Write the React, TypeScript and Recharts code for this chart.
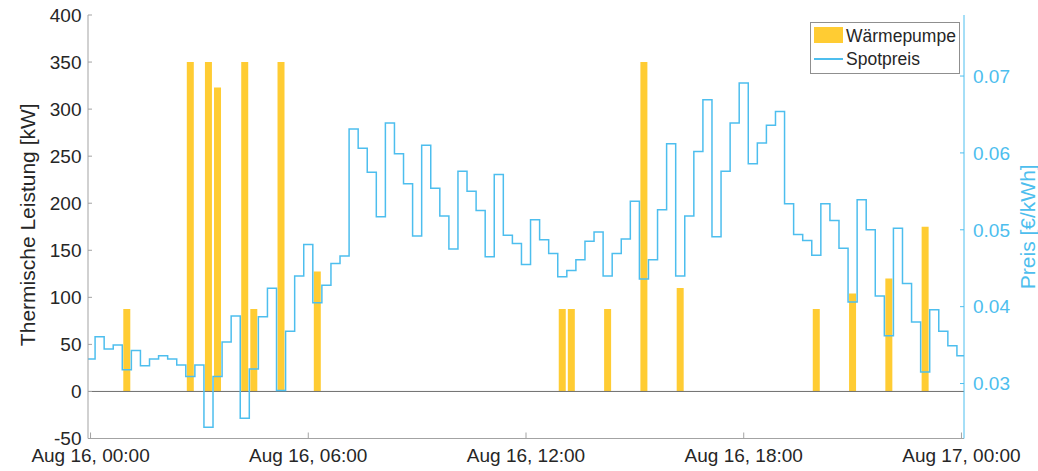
import {
  ComposedChart, Bar, Line, XAxis, YAxis, ReferenceLine, Legend, Label,
} from "recharts";

const FONT = '"Liberation Sans", Arial, Helvetica, sans-serif';
const INK = "#262626";
const BOX = "#A3A3A3";
const BLUE = "#4DBEEE";
const YELLOW = "#FFCC33";

// Spotpreis in €/kWh, one value per quarter hour from Aug 16 00:00 to Aug 17 00:00
const price = [
  0.0332, 0.0361, 0.0345, 0.0350, 0.0318, 0.0343, 0.0323, 0.0332, 0.0336, 0.0332,
  0.0324, 0.0309, 0.0324, 0.0243, 0.0309, 0.0354, 0.0388, 0.0255, 0.0319, 0.0387,
  0.0424, 0.0291, 0.0368, 0.0440, 0.0481, 0.0405, 0.0428, 0.0456, 0.0466, 0.0631,
  0.0606, 0.0575, 0.0517, 0.0639, 0.0599, 0.0560, 0.0492, 0.0610, 0.0554, 0.0518,
  0.0475, 0.0576, 0.0550, 0.0525, 0.0465, 0.0572, 0.0493, 0.0482, 0.0455, 0.0513,
  0.0487, 0.0469, 0.0439, 0.0447, 0.0461, 0.0485, 0.0497, 0.0440, 0.0469, 0.0488,
  0.0537, 0.0436, 0.0461, 0.0526, 0.0612, 0.0440, 0.0518, 0.0602, 0.0669, 0.0491,
  0.0576, 0.0639, 0.0691, 0.0586, 0.0613, 0.0636, 0.0654, 0.0534, 0.0494, 0.0486,
  0.0467, 0.0534, 0.0512, 0.0476, 0.0406, 0.0539, 0.0500, 0.0414, 0.0362, 0.0502,
  0.0430, 0.0380, 0.0315, 0.0396, 0.0368, 0.0349, 0.0336,
];

// Wärmepumpe: quarter-hour slots in which it ran, and its thermal power in kW
const pumpSlots = [4, 11, 13, 14, 17, 18, 21, 25, 52, 53, 57, 61, 65, 80, 84, 88, 92];
const pumpKW = [87.5, 350, 350, 323, 350, 87.5, 350, 127.5, 87.5, 87.5, 87.5, 350, 110, 87.5, 104, 120, 175];

const xTicks = [0, 6, 12, 18, 24];
const xLabels = ["Aug 16, 00:00", "Aug 16, 06:00", "Aug 16, 12:00", "Aug 16, 18:00", "Aug 17, 00:00"];
const kwTicks = [-50, 0, 50, 100, 150, 200, 250, 300, 350, 400];
const priceTicks = [0.03, 0.04, 0.05, 0.06, 0.07];

const X_DOMAIN = [-0.07, 24.07];
const KW_DOMAIN = [-50, 400];
const PRICE_DOMAIN = [0.02285, 0.07794];

// one row per quarter hour (hours as x); "step" switches halfway between rows
const rows = price.map((p, i) => {
  const j = pumpSlots.indexOf(i);
  return { t: i / 4, price: p, kw: j >= 0 ? pumpKW[j] : null };
});
// pad one slot on each side so the steps run to the box edges (clipped)
const data = [
  { t: -0.25, price: price[0], kw: null },
  ...rows,
  { t: 24.25, price: price[price.length - 1], kw: null },
];

const tickFont = { fontFamily: FONT, fontSize: 19 };

function SideTitle({ cx, cy, text, color }: { cx: number; cy: number; text: string; color: string }) {
  return (
    <text
      x={cx}
      y={cy}
      transform={`rotate(-90 ${cx} ${cy})`}
      textAnchor="middle"
      dominantBaseline="central"
      fill={color}
      fontFamily={FONT}
      fontSize={21}
    >
      {text}
    </text>
  );
}

function LegendBox() {
  return (
    <div
      style={{
        position: "relative", width: 150, height: 52, boxSizing: "border-box",
        border: "1px solid #8F8F8F", background: "#fff",
        fontFamily: FONT, fontSize: 17.5, color: INK, lineHeight: "20px",
      }}
    >
      <div style={{ position: "absolute", left: 3, top: 4, width: 29, height: 16, background: YELLOW }} />
      <div style={{ position: "absolute", left: 35, top: 3 }}>Wärmepumpe</div>
      <div style={{ position: "absolute", left: 3, top: 35, width: 29, height: 1.5, background: BLUE }} />
      <div style={{ position: "absolute", left: 35, top: 26 }}>Spotpreis</div>
    </div>
  );
}

export default function App() {
  return (
    <div style={{ position: "absolute", left: 0, top: 0, background: "#fff" }}>
      <ComposedChart width={1038} height={471} data={data} margin={{ top: 15, right: 0, bottom: 0, left: 0 }}>
        <XAxis
          dataKey="t"
          type="number"
          domain={X_DOMAIN}
          allowDataOverflow
          ticks={xTicks}
          interval={0}
          height={32.5}
          tickSize={-6}
          tickMargin={16.5}
          tickFormatter={(v) => xLabels[xTicks.indexOf(v)] ?? ""}
          tick={{ ...tickFont, fill: INK }}
          axisLine={{ stroke: BOX }}
          tickLine={{ stroke: BOX }}
        />
        <XAxis
          xAxisId="top"
          orientation="top"
          dataKey="t"
          type="number"
          domain={X_DOMAIN}
          allowDataOverflow
          ticks={xTicks}
          height={0}
          tickSize={-6}
          tick={false}
          axisLine={{ stroke: BOX }}
          tickLine={{ stroke: BOX }}
        />
        <YAxis
          yAxisId="kw"
          type="number"
          domain={KW_DOMAIN}
          allowDataOverflow
          ticks={kwTicks}
          interval={0}
          width={88}
          tickSize={-4}
          tickMargin={10.5}
          tick={{ ...tickFont, fill: INK }}
          axisLine={{ stroke: BOX }}
          tickLine={{ stroke: BOX }}
        >
          <Label
            content={({ viewBox }: any) => (
              <SideTitle cx={27} cy={viewBox.y + viewBox.height / 2 - 2} text="Thermische Leistung [kW]" color={INK} />
            )}
          />
        </YAxis>
        <YAxis
          yAxisId="price"
          orientation="right"
          type="number"
          domain={PRICE_DOMAIN}
          allowDataOverflow
          ticks={priceTicks}
          interval={0}
          width={74}
          tickSize={-4}
          tickMargin={13}
          tickFormatter={(v) => v.toFixed(2)}
          tick={{ ...tickFont, fill: BLUE }}
          axisLine={{ stroke: BLUE }}
          tickLine={{ stroke: BLUE }}
        >
          <Label
            content={({ viewBox }: any) => (
              <SideTitle cx={1027.5} cy={viewBox.y + viewBox.height / 2} text="Preis [€/kWh]" color={BLUE} />
            )}
          />
        </YAxis>
        <Bar yAxisId="kw" dataKey="kw" name="Wärmepumpe" fill={YELLOW} barSize={7} isAnimationActive={false} />
        <ReferenceLine yAxisId="kw" y={0} stroke="#6E6E6E" strokeWidth={1} />
        <Line
          yAxisId="price"
          dataKey="price"
          name="Spotpreis"
          type="step"
          stroke={BLUE}
          strokeWidth={1.5}
          dot={false}
          activeDot={false}
          isAnimationActive={false}
        />
        <Legend
          layout="horizontal"
          verticalAlign="middle"
          align="center"
          wrapperStyle={{ left: 810, top: 22, width: 150, height: 52 }}
          content={() => <LegendBox />}
        />
      </ComposedChart>
    </div>
  );
}
